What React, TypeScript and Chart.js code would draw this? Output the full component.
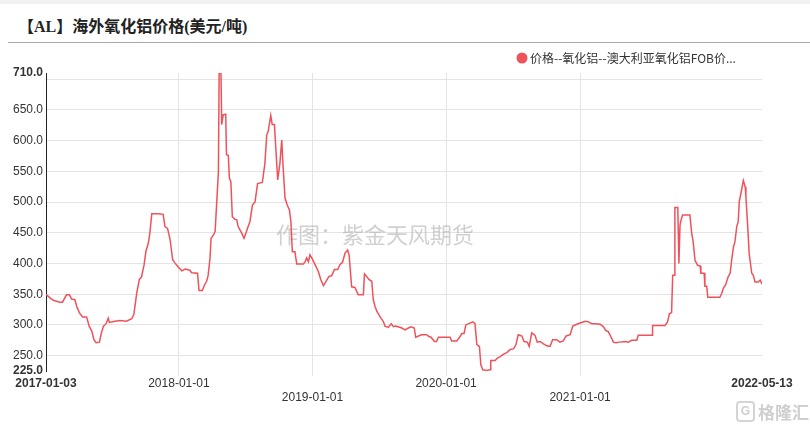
import React, { useEffect, useRef } from 'react';
import { Chart, registerables } from 'chart.js';

Chart.register(...registerables);

const titleText = '【AL】海外氧化铝价格(美元/吨)';
const seriesLabel = '价格--氧化铝--澳大利亚氧化铝FOB价...';
const watermarkText = '作图：紫金天风期货';

const dates = [
  '2017-01-03','2017-01-14','2017-01-23','2017-02-10','2017-02-17','2017-02-28','2017-03-08','2017-03-14','2017-03-23','2017-03-28',
  '2017-04-04','2017-04-13','2017-04-24','2017-05-01','2017-05-08','2017-05-14','2017-05-20','2017-05-29','2017-06-03','2017-06-09',
  '2017-06-16','2017-06-22','2017-06-25','2017-07-11','2017-07-24','2017-08-11','2017-08-25','2017-08-31','2017-09-08','2017-09-15',
  '2017-09-21','2017-09-28','2017-10-03','2017-10-10','2017-10-14','2017-10-19','2017-11-06','2017-11-19','2017-11-24','2017-12-01',
  '2017-12-08','2017-12-15','2017-12-21','2017-12-29',
  '2018-01-09','2018-01-18','2018-01-31','2018-02-05','2018-02-21','2018-02-25','2018-03-06','2018-03-12','2018-03-18','2018-03-22',
  '2018-03-27','2018-03-30','2018-04-05','2018-04-10','2018-04-14','2018-04-19','2018-04-21','2018-04-26','2018-04-28','2018-05-02',
  '2018-05-09','2018-05-11','2018-05-16','2018-05-19','2018-05-23','2018-05-27','2018-06-03','2018-06-08','2018-06-12','2018-06-22',
  '2018-06-28','2018-07-03','2018-07-08','2018-07-14','2018-07-21','2018-07-28','2018-08-04','2018-08-17','2018-08-24','2018-08-29',
  '2018-09-02','2018-09-09','2018-09-13','2018-09-19','2018-09-22','2018-09-28','2018-10-04','2018-10-09','2018-10-13','2018-10-18',
  '2018-10-24','2018-10-30','2018-11-03','2018-11-07','2018-11-14','2018-11-19','2018-12-07','2018-12-12','2018-12-16','2018-12-21',
  '2018-12-25','2018-12-30',
  '2019-01-08','2019-01-17','2019-01-24','2019-01-31','2019-02-09','2019-02-15','2019-02-22','2019-03-02','2019-03-11','2019-03-17',
  '2019-03-24','2019-03-31','2019-04-07','2019-04-11','2019-04-18','2019-04-27','2019-05-06','2019-05-20','2019-05-23','2019-05-29',
  '2019-06-04','2019-06-12','2019-06-16','2019-06-21','2019-06-26','2019-07-02','2019-07-07','2019-07-14','2019-07-18','2019-07-27',
  '2019-08-04','2019-08-10','2019-08-16','2019-08-23','2019-09-02','2019-09-11','2019-09-20','2019-09-27','2019-10-06','2019-10-10',
  '2019-10-26','2019-11-09','2019-11-15','2019-11-21','2019-11-30','2019-12-06','2019-12-11','2019-12-29',
  '2020-01-12','2020-01-16','2020-01-30','2020-02-06','2020-02-13','2020-02-19','2020-02-24','2020-03-06','2020-03-14','2020-03-20',
  '2020-03-25','2020-04-01','2020-04-05','2020-04-10','2020-04-21','2020-04-30','2020-05-02','2020-05-14','2020-05-20','2020-05-27',
  '2020-06-05','2020-06-15','2020-06-24','2020-07-03','2020-07-10','2020-07-16','2020-07-26','2020-08-01','2020-08-10','2020-08-15',
  '2020-08-22','2020-08-31','2020-09-06','2020-09-14','2020-09-23','2020-10-02','2020-10-11','2020-10-18','2020-10-29','2020-11-07',
  '2020-11-16','2020-11-24','2020-12-05','2020-12-12','2020-12-23',
  '2021-01-01','2021-01-15','2021-01-24','2021-02-02','2021-02-11','2021-02-25','2021-03-06','2021-03-12','2021-03-19','2021-03-27',
  '2021-04-02','2021-04-08','2021-04-20','2021-05-04','2021-05-13','2021-05-22','2021-06-05','2021-06-09','2021-07-17','2021-07-18',
  '2021-08-21','2021-08-28','2021-09-02','2021-09-08','2021-09-11','2021-09-15','2021-09-17','2021-09-25','2021-09-28','2021-10-01',
  '2021-10-04','2021-10-08','2021-10-28','2021-11-02','2021-11-06','2021-11-11','2021-11-18','2021-11-25','2021-11-27','2021-12-06',
  '2021-12-08','2021-12-13','2021-12-16',
  '2022-01-18','2022-01-23','2022-01-27','2022-02-03','2022-02-10','2022-02-15','2022-02-19','2022-02-24','2022-02-28','2022-03-05',
  '2022-03-09','2022-03-12','2022-03-19','2022-03-23','2022-03-28','2022-03-30','2022-04-04','2022-04-08','2022-04-15','2022-04-19',
  '2022-04-24','2022-05-03','2022-05-08','2022-05-12','2022-05-13',
];

const prices = [
  350,344,340,337,337,349,349,342,341,330,
  320,313,313,298,290,276,271,272,286,298,
  302,311,304,306,307,306,310,317,352,374,
  378,398,420,434,451,481,481,480,460,457,
  439,406,401,395,
  388,391,389,385,384,356,356,365,371,381,
  408,441,446,452,495,549,710,710,626,642,
  643,577,576,539,533,476,472,471,460,449,
  441,449,458,468,495,500,530,532,563,609,
  615,641,626,626,596,536,563,601,555,506,
  495,487,468,419,419,399,399,403,409,403,
  414,409,
  398,387,373,364,373,379,380,390,390,398,
  402,417,422,414,362,361,349,349,383,379,
  374,371,341,330,322,316,311,305,298,296,
  302,297,298,297,295,292,295,297,295,280,
  284,284,281,280,273,273,280,280,
  280,274,274,279,286,286,300,303,305,302,
  268,265,235,227,226,227,242,242,246,248,
  252,255,260,261,268,284,282,273,272,265,
  287,283,272,273,269,266,265,276,276,272,
  274,282,284,298,301,
  303,306,305,302,302,301,297,291,289,280,
  272,271,272,273,272,275,275,283,283,299,
  299,305,318,320,381,381,491,491,400,462,
  471,479,479,449,435,405,397,396,384,384,
  363,363,345,
  345,351,359,366,379,384,405,427,435,460,
  468,501,522,535,525,509,460,416,384,381,
  370,370,373,368,366,
];

const xTickDates = ['2017-01-03', '2018-01-01', '2019-01-01', '2020-01-01', '2021-01-01', '2022-05-13'];
const yMin = 225;
const yMax = 710;
const yStep = 50;
const yHiddenLabel = 700;

const lineColor = '#ef525a';
const gridColor = '#e4e4e4';
const textColor = '#333333';
const fontFamily = '"Liberation Sans", Arial, sans-serif';
const cjkFont = '"Noto Sans CJK SC", sans-serif';

function dayIndex(s: string): number {
  const [y, m, d] = s.split('-').map(Number);
  const [y0, m0, d0] = dates[0].split('-').map(Number);
  return Math.round((Date.UTC(y, m - 1, d) - Date.UTC(y0, m0 - 1, d0)) / 86400000);
}

function buildYTicks(): number[] {
  const t: number[] = [yMin];
  for (let v = Math.ceil(yMin / yStep) * yStep; v < yMax; v += yStep) {
    if (v > yMin) t.push(v);
  }
  t.push(yMax);
  return t;
}

const overlayPlugin = {
  id: 'overlay',
  beforeDatasetsDraw(chart: any) {
    const { ctx, chartArea } = chart;
    ctx.save();
    ctx.font = `22px ${cjkFont}`;
    ctx.fillStyle = 'rgba(170,170,170,0.55)';
    ctx.textAlign = 'center';
    ctx.textBaseline = 'middle';
    ctx.fillText(watermarkText, (chartArea.left + chartArea.right) / 2 - 29, chartArea.top + 162);
    ctx.restore();
  },
  afterDraw(chart: any) {
    const { ctx } = chart;
    const ds = chart.data.datasets[0];
    ctx.save();
    ctx.fillStyle = ds.borderColor;
    ctx.beginPath();
    ctx.arc(522, 14, 5.5, 0, Math.PI * 2);
    ctx.fill();
    ctx.font = `12px ${cjkFont}`;
    ctx.fillStyle = textColor;
    ctx.textAlign = 'left';
    ctx.textBaseline = 'middle';
    ctx.fillText(ds.label, 530, 14);
    ctx.restore();
  },
};

export default function App() {
  const ref = useRef<HTMLCanvasElement>(null);

  useEffect(() => {
    if (!ref.current) return;
    const yTicks = buildYTicks();
    const points = dates.map((d, i) => ({ x: dayIndex(d), y: prices[i] }));
    const lastX = dayIndex(xTickDates[xTickDates.length - 1]);
    const chart = new Chart(ref.current, {
      type: 'line',
      data: {
        datasets: [
          {
            label: seriesLabel,
            data: points,
            borderColor: lineColor,
            backgroundColor: lineColor,
            borderWidth: 1.5,
            pointRadius: 0,
            tension: 0,
            fill: false,
          },
        ],
      },
      options: {
        animation: false,
        responsive: false,
        devicePixelRatio: 1,
        layout: { padding: { left: 0, right: 48, top: 29, bottom: 0 } },
        plugins: {
          legend: { display: false },
          tooltip: { enabled: false },
        },
        scales: {
          x: {
            type: 'linear',
            min: 0,
            max: lastX,
            border: { display: false },
            grid: {
              color: (c: any) => (c.index === 0 || c.index === xTickDates.length - 1 ? 'rgba(0,0,0,0)' : gridColor),
              tickLength: 5,
              drawTicks: true,
            },
            afterBuildTicks: (scale: any) => {
              scale.ticks = xTickDates.map((s) => ({ value: dayIndex(s) }));
            },
            afterFit: (scale: any) => {
              scale.height = 56;
            },
            ticks: {
              autoSkip: false,
              maxRotation: 0,
              minRotation: 0,
              padding: 0,
              color: textColor,
              font: (c: any) => ({
                family: fontFamily,
                size: 12,
                weight: c.index === 0 || c.index === xTickDates.length - 1 ? 'bold' : 'normal',
              }),
              callback: (_v: any, index: number) => {
                const label = xTickDates[index];
                const last = xTickDates.length - 1;
                const lower = index > 0 && index < last && index % 2 === 0;
                return lower ? ['', label] : label;
              },
            },
          },
          y: {
            type: 'linear',
            min: yMin,
            max: yMax,
            border: { display: true, color: '#222', width: 1 },
            grid: {
              color: (c: any) => (c.tick && (c.tick.value === yMin || c.tick.value === yMax) ? 'rgba(0,0,0,0)' : gridColor),
              drawTicks: false,
            },
            afterBuildTicks: (scale: any) => {
              scale.ticks = yTicks.map((v) => ({ value: v }));
            },
            afterFit: (scale: any) => {
              scale.width = 46;
            },
            ticks: {
              padding: 3,
              color: textColor,
              font: (c: any) => ({
                family: fontFamily,
                size: 12,
                weight: c.tick && (c.tick.value === yMin || c.tick.value === yMax) ? 'bold' : 'normal',
              }),
              callback: (v: any) => (Number(v) === yHiddenLabel ? '' : Number(v).toFixed(1)),
            },
          },
        },
      },
      plugins: [overlayPlugin],
    } as any);
    return () => chart.destroy();
  }, []);

  return (
    <div style={{ position: 'absolute', left: 0, top: 0, width: 810, height: 427, background: '#fff', overflow: 'hidden' }}>
      <div style={{ position: 'absolute', left: 0, top: 0, width: 810, height: 4, background: '#f1f1f1' }} />
      <div
        style={{
          position: 'absolute',
          left: 18,
          top: 15,
          lineHeight: '24px',
          fontSize: 16,
          fontWeight: 'bold',
          fontFamily: '"Liberation Serif", "Noto Sans CJK SC", serif',
          color: '#222',
          whiteSpace: 'nowrap',
        }}
      >
        {titleText}
      </div>
      <div style={{ position: 'absolute', left: 8, top: 42, width: 802, height: 1, background: '#a8a8a8' }} />
      <canvas ref={ref} width={810} height={383} style={{ position: 'absolute', left: 0, top: 44, width: 810, height: 383 }} />
      <div style={{ position: 'absolute', left: 736, top: 401, display: 'flex', alignItems: 'center', color: '#cfcfcf' }}>
        <div
          style={{
            width: 15,
            height: 17,
            border: '2px solid #d4d4d4',
            borderRadius: 4,
            fontSize: 12,
            fontWeight: 'bold',
            fontFamily: fontFamily,
            lineHeight: '17px',
            textAlign: 'center',
            boxSizing: 'content-box',
          }}
        >
          G
        </div>
        <div style={{ marginLeft: 3, fontSize: 17, fontFamily: cjkFont, fontWeight: 'bold', lineHeight: '20px' }}>格隆汇</div>
      </div>
    </div>
  );
}
